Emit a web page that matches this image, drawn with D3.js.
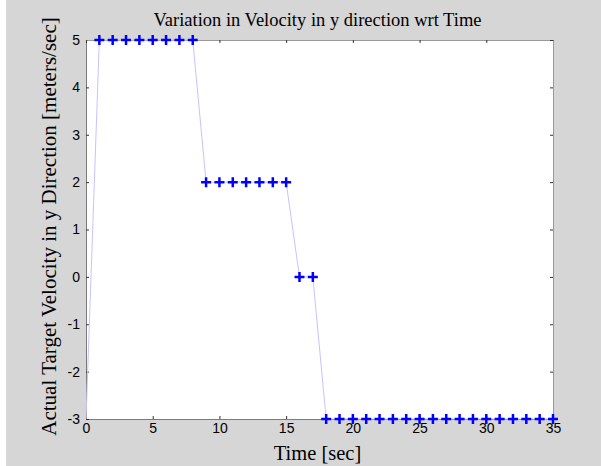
<!DOCTYPE html>
<html lang="en">
<head>
<meta charset="UTF-8">
<title>Variation in Velocity in y direction wrt Time</title>
<script src="https://cdn.jsdelivr.net/npm/d3@7"></script>
<style>
    body { margin: 0; background: #ffffff; }
    .tick text { font-family: "Liberation Sans", Arial, sans-serif; font-size: 14px; fill: #000; }
    .lbl { font-family: "Liberation Serif", "Times New Roman", serif; fill: #000; }
</style>
</head>
<body>
<div id="container"></div>
<script>
    // time samples (sec) and y velocity (m/s)
    var timeSec = [0, 1, 2, 3, 4, 5, 6, 7, 8, 9, 10, 11, 12, 13, 14, 15, 16, 17,
        18, 19, 20, 21, 22, 23, 24, 25, 26, 27, 28, 29, 30, 31, 32, 33, 34, 35];
    var velY = [-3, 5, 5, 5, 5, 5, 5, 5, 5, 2, 2, 2, 2, 2, 2, 2, 0, 0,
        -3, -3, -3, -3, -3, -3, -3, -3, -3, -3, -3, -3, -3, -3, -3, -3, -3, -3];
    var xTicks = [0, 5, 10, 15, 20, 25, 30, 35];
    var yTicks = [-3, -2, -1, 0, 1, 2, 3, 4, 5];

    var W = 601, H = 466;
    var margin = { top: 40, right: 48, bottom: 47, left: 86 },
        width = W - margin.left - margin.right,
        height = H - margin.top - margin.bottom;

    var svg = d3.select("#container").append("svg")
        .attr("width", W).attr("height", H);

    // figure background
    svg.append("rect").attr("x", 6).attr("y", 0).attr("width", W - 6).attr("height", H)
        .attr("fill", "#d6d6d6");

    var g = svg.append("g").attr("transform", "translate(" + margin.left + "," + margin.top + ")");

    var x = d3.scaleLinear().domain([0, 35]).range([0, width]);
    var y = d3.scaleLinear().domain([-3, 5]).range([height, 0]);

    g.append("rect").attr("width", width).attr("height", height).attr("fill", "#ffffff");

    var plain = function (d) { return String(d); };  // hyphen minus like the original

    // axes (ticks drawn inward, MATLAB style)
    var xAxis = g.append("g").attr("transform", "translate(0," + height + ")")
        .call(d3.axisBottom(x).tickValues(xTicks).tickFormat(plain).tickSize(-3).tickPadding(7).tickSizeOuter(0));
    var yAxis = g.append("g")
        .call(d3.axisLeft(y).tickValues(yTicks).tickFormat(plain).tickSize(-3).tickPadding(6).tickSizeOuter(0));
    var xTop = g.append("g")
        .call(d3.axisTop(x).tickValues(xTicks).tickSize(-3).tickFormat("").tickSizeOuter(0));
    var yRight = g.append("g").attr("transform", "translate(" + width + ",0)")
        .call(d3.axisRight(y).tickValues(yTicks).tickSize(-3).tickFormat("").tickSizeOuter(0));

    [xAxis, yAxis].forEach(function (a) {
        a.select(".domain").attr("stroke", "#7a7a7a");
        a.selectAll(".tick line").attr("stroke", "#333");
    });
    [xTop, yRight].forEach(function (a) {
        a.select(".domain").attr("stroke", "#9a9a9a");
        a.selectAll(".tick line").attr("stroke", "#333");
    });
    xAxis.selectAll(".tick text").attr("dy", "0.5em");

    var pts = timeSec.map(function (t, i) { return { t: t, v: velY[i] }; });

    var line = d3.line().x(function (d) { return x(d.t); }).y(function (d) { return y(d.v); });

    g.append("path").datum(pts)
        .attr("d", line)
        .attr("fill", "none")
        .attr("stroke", "#c4c4ff")
        .attr("stroke-width", 1);

    // plus markers
    var s = 5;
    g.append("g").selectAll("path")
        .data(pts.filter(function (d, i) { return i > 0; }))
        .enter().append("path")
        .attr("d", function (d) {
            var cx = x(d.t), cy = y(d.v);
            return "M" + (cx - s) + "," + cy + "H" + (cx + s) + "M" + cx + "," + (cy - s) + "V" + (cy + s);
        })
        .attr("stroke", "#0000ff")
        .attr("stroke-width", 2.5)
        .attr("fill", "none");

    // title and labels
    svg.append("text").attr("class", "lbl")
        .attr("x", margin.left + width / 2 - 2).attr("y", 26)
        .attr("text-anchor", "middle").attr("font-size", 18.5)
        .text("Variation in Velocity in y direction wrt Time");

    svg.append("text").attr("class", "lbl")
        .attr("x", margin.left + width / 2 - 2).attr("y", 460)
        .attr("text-anchor", "middle").attr("font-size", 20.5)
        .text("Time [sec]");

    svg.append("text").attr("class", "lbl")
        .attr("transform", "translate(56," + (margin.top + height / 2 - 3) + ") rotate(-90)")
        .attr("text-anchor", "middle").attr("font-size", 21)
        .text("Actual Target Velocity in y Direction [meters/sec]");
</script>
</body>
</html>
